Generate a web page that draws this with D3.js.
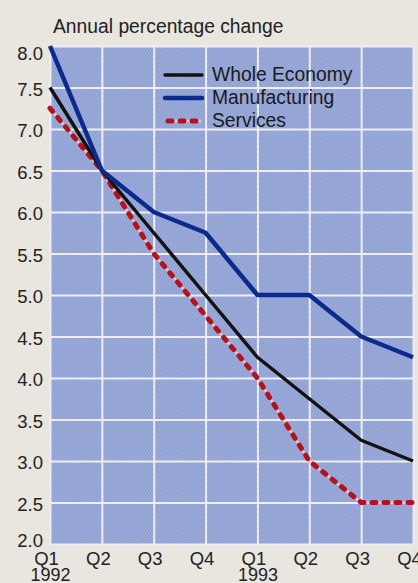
<!DOCTYPE html>
<html>
<head>
<meta charset="utf-8">
<script src="https://cdn.jsdelivr.net/npm/d3@7/dist/d3.min.js"></script>
<style>
  html, body { margin: 0; padding: 0; background: #e8e6df; }
  svg { display: block; font-family: "Liberation Sans", Arial, Helvetica, sans-serif; }
</style>
</head>
<body>
<svg id="chart" width="418" height="583"></svg>
<script>
// Quarterly annual percentage change, 1992-1993
const quarters = ["Q1", "Q2", "Q3", "Q4", "Q1", "Q2", "Q3", "Q4"];
const years = ["1992", "", "", "", "1993", "", "", ""];
const wholeEconomy = [7.5, 6.5, 5.75, 5.0, 4.25, 3.75, 3.25, 3.0];
const manufacturing = [8.0, 6.5, 6.0, 5.75, 5.0, 5.0, 4.5, 4.25];
const services = [7.25, 6.5, 5.5, 4.75, 4.0, 3.0, 2.5, 2.5];
const yTicks = [2.0, 2.5, 3.0, 3.5, 4.0, 4.5, 5.0, 5.5, 6.0, 6.5, 7.0, 7.5, 8.0];
const seriesNames = ["Whole Economy", "Manufacturing", "Services"];

const svg = d3.select("#chart");
const plotLeft = 50, plotRight = 413, plotTop = 46, plotBottom = 544;

const x = d3.scaleLinear().domain([0, quarters.length - 1]).range([plotLeft, plotRight]);
const y = d3.scaleLinear().domain([2, 8]).range([plotBottom, plotTop]);

// finely hatched blue panel
const defs = svg.append("defs");
const pat = defs.append("pattern")
  .attr("id", "hatch")
  .attr("patternUnits", "userSpaceOnUse")
  .attr("width", 2.5).attr("height", 6)
  .attr("patternTransform", "rotate(30)");
pat.append("rect").attr("width", 2.5).attr("height", 6).attr("fill", "#8d9ed1");
pat.append("rect").attr("x", 0).attr("width", 1).attr("height", 6).attr("fill", "#a2b1dd");

svg.append("rect")
  .attr("x", plotLeft).attr("y", plotTop)
  .attr("width", plotRight - plotLeft).attr("height", plotBottom - plotTop)
  .attr("fill", "url(#hatch)");

// grid
const gridY = svg.append("g")
  .attr("transform", `translate(${plotLeft},0)`)
  .call(d3.axisLeft(y).tickValues(yTicks).tickSize(-(plotRight - plotLeft)).tickFormat(""));
gridY.select(".domain").remove();
gridY.selectAll("line").attr("stroke", "#eeeef2").attr("stroke-width", 2);

const gridX = svg.append("g")
  .attr("transform", `translate(0,${plotBottom})`)
  .call(d3.axisBottom(x).tickValues(d3.range(quarters.length)).tickSize(-(plotBottom - plotTop)).tickFormat(""));
gridX.select(".domain").remove();
gridX.selectAll("line").attr("stroke", "#eeeef2").attr("stroke-width", 2);

// y tick labels (end labels nudged inside the panel's height)
const yAxis = svg.append("g")
  .attr("transform", `translate(${plotLeft - 7},0)`)
  .call(d3.axisLeft(y).tickValues(yTicks).tickSize(0).tickPadding(0).tickFormat(d3.format(".1f")));
yAxis.select(".domain").remove();
yAxis.selectAll("text")
  .attr("font-size", 18.5).attr("fill", "#222")
  .attr("font-family", "'Liberation Sans', Arial, sans-serif")
  .attr("dy", d => d === 8 ? "0.75em" : d === 2 ? "0.16em" : "0.42em");

// x tick labels
const xAxis = svg.append("g")
  .attr("transform", `translate(-4,${plotBottom})`)
  .call(d3.axisBottom(x).tickValues(d3.range(quarters.length)).tickSize(0).tickPadding(0)
    .tickFormat(i => quarters[i]));
xAxis.select(".domain").remove();
xAxis.selectAll("text")
  .attr("font-size", 18.5).attr("fill", "#222")
  .attr("font-family", "'Liberation Sans', Arial, sans-serif")
  .attr("dy", null).attr("y", 21);
xAxis.selectAll(".tick").append("text")
  .attr("x", 4).attr("y", 36.5)
  .attr("text-anchor", "middle")
  .attr("font-size", 18).attr("fill", "#222")
  .text(i => years[i]);

// lines
const line = d3.line().x((d, i) => x(i)).y(d => y(d));

svg.append("path").datum(services)
  .attr("d", line).attr("fill", "none")
  .attr("stroke", "#e9c6cf").attr("stroke-width", 2.5);
svg.append("path").datum(services)
  .attr("d", line).attr("fill", "none")
  .attr("stroke", "#b3121f").attr("stroke-width", 5)
  .attr("stroke-linecap", "round").attr("stroke-dasharray", "4 8");

svg.append("path").datum(wholeEconomy)
  .attr("d", line).attr("fill", "none")
  .attr("stroke", "#121212").attr("stroke-width", 3.5)
  .attr("stroke-linejoin", "round");

svg.append("path").datum(manufacturing)
  .attr("d", line).attr("fill", "none")
  .attr("stroke", "#0b2a8c").attr("stroke-width", 4.5)
  .attr("stroke-linejoin", "round");

// legend
const legend = svg.append("g");
const legendStyles = [
  { stroke: "#121212", width: 3.5, dash: null },
  { stroke: "#0b2a8c", width: 4.5, dash: null },
  { stroke: "#b3121f", width: 5, dash: "4 8" }
];
seriesNames.forEach((name, i) => {
  const yy = 75 + i * 23;
  const s = legendStyles[i];
  if (i === 2) {
    legend.append("line").attr("x1", 166).attr("x2", 201).attr("y1", yy).attr("y2", yy)
      .attr("stroke", "#e9c6cf").attr("stroke-width", 2.5);
  }
  legend.append("line")
    .attr("x1", i === 2 ? 168 : 165).attr("x2", 202).attr("y1", yy).attr("y2", yy)
    .attr("stroke", s.stroke).attr("stroke-width", s.width)
    .attr("stroke-linecap", "round")
    .attr("stroke-dasharray", s.dash);
  legend.append("text")
    .attr("x", 212).attr("y", yy + 6)
    .attr("font-size", 19.3).attr("fill", "#1a1a1a")
    .text(name);
});

// title
svg.append("text")
  .attr("x", 53).attr("y", 33)
  .attr("font-size", 19.3).attr("fill", "#222")
  .text("Annual percentage change");
</script>
</body>
</html>
